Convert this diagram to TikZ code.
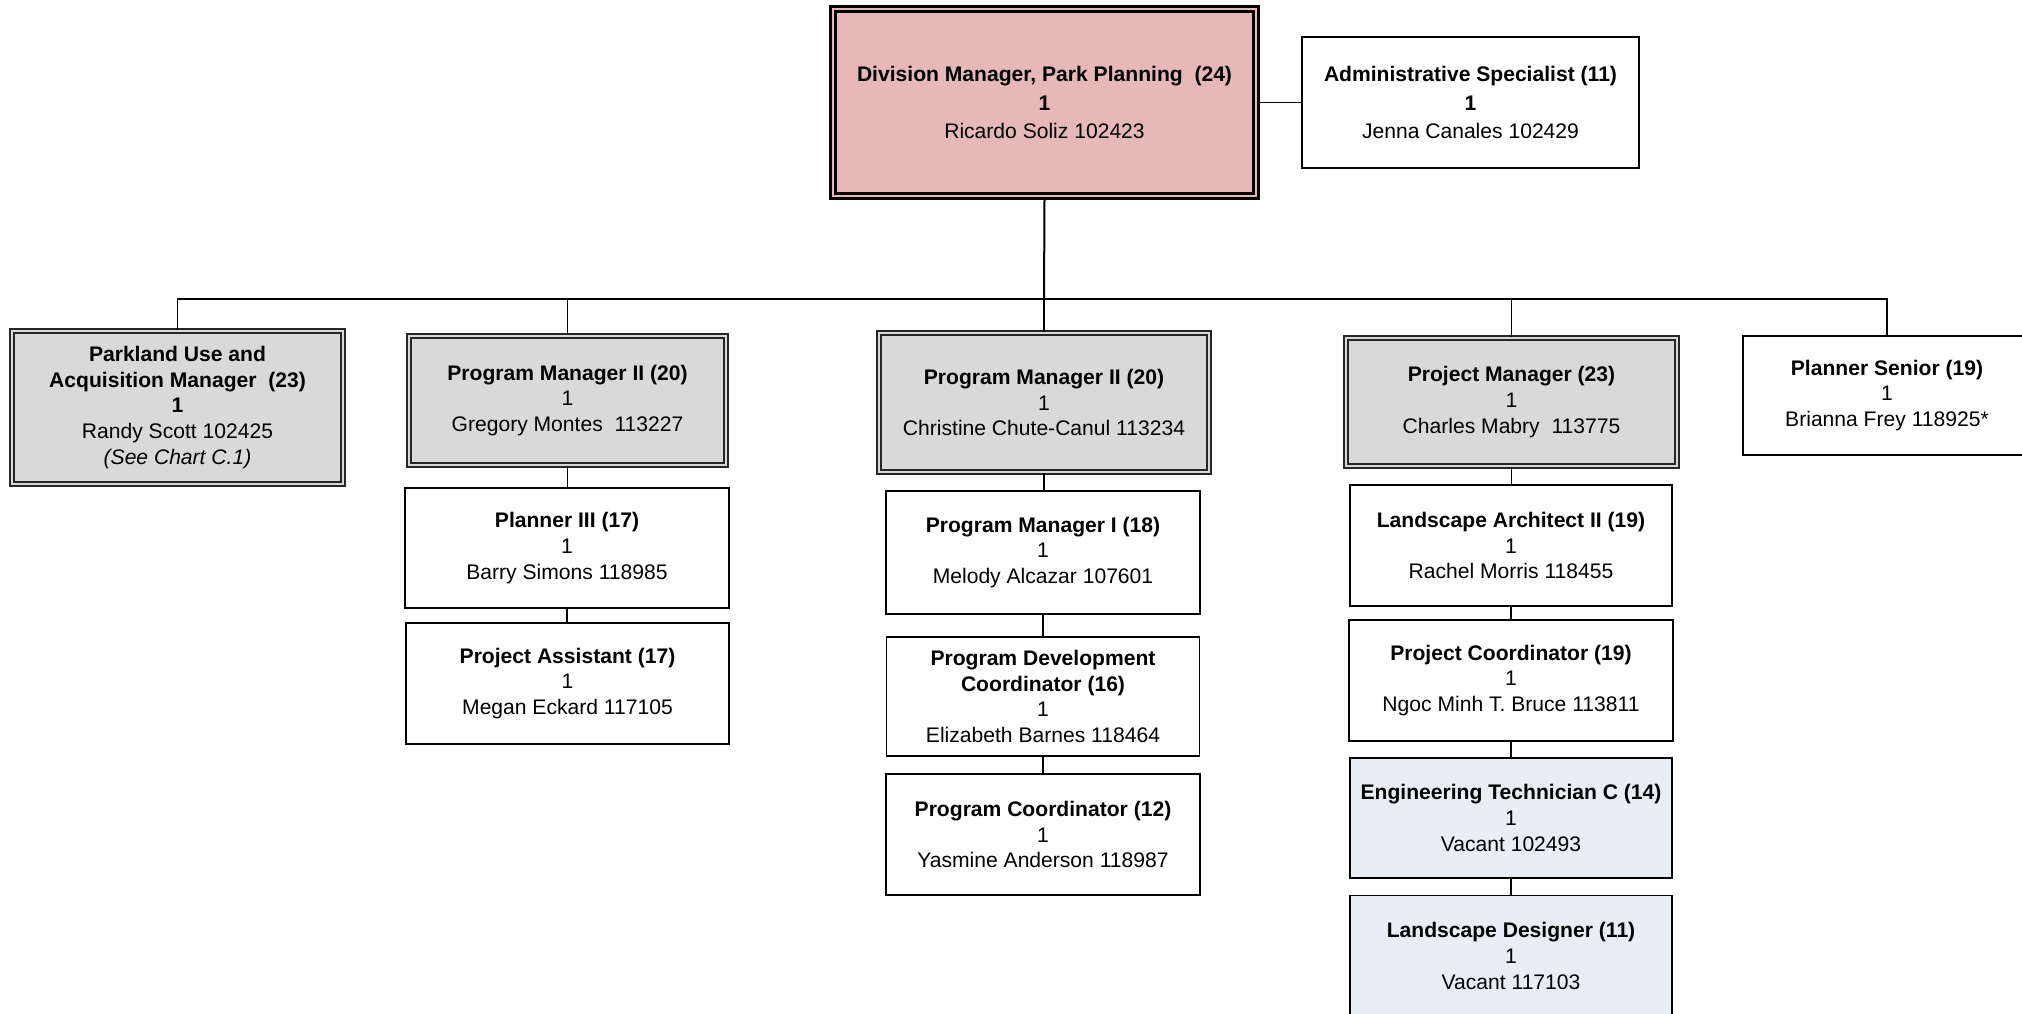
\documentclass[tikz,border=0pt]{standalone}
\usepackage{fontspec}
\setmainfont{Liberation Sans}
\usepackage[usenames,dvipsnames]{xcolor}
\usepackage{tikz}

\definecolor{headpink}{HTML}{E6B8B7}
\definecolor{mgrgray}{HTML}{D9D9D9}
\definecolor{vacblue}{HTML}{E9EDF4}

\begin{document}
\begin{tikzpicture}[x = 0.2mm, y = -0.2mm,
    every node/.style = {align = center, inner sep = 0pt,
        font = \fontsize{12}{14.7}\selectfont},
    box/.style 2 args = {draw, line width = 0.3mm, fill = white,
        minimum width = #1*0.2mm, minimum height = #2*0.2mm},
    mgrbox/.style = {fill = mgrgray, draw = black!85, double = mgrgray,
        double distance = 0.5mm, line width = 0.3mm},
    headbox/.style = {fill = headpink, draw = black, double = headpink,
        double distance = 0.25mm, line width = 0.75mm},
    vacbox/.style = {fill = vacblue},
    topfont/.style = {font = \fontsize{12}{16}\selectfont},
    link/.style = {line width = 0.3mm}]
    \useasboundingbox (0, 0) rectangle (2022, 1013);

    %% head
    \node[box = {423}{187}, headbox, topfont] (div) at (1044.5, 102.5)
        {\textbf{Division Manager, Park Planning~ (24)}\\\textbf{1}\\Ricardo Soliz 102423};
    \node[box = {337}{131}, topfont] (admin) at (1470.5, 102.5)
        {\textbf{Administrative Specialist (11)}\\\textbf{1}\\Jenna Canales 102429};

    %% managers
    \node[box = {331}{153}, mgrbox] (park) at (177.5, 407.5)
        {\textbf{Parkland Use and}\\\textbf{Acquisition Manager~ (23)}\\\textbf{1}\\Randy Scott 102425\\\textit{(See Chart C.1)}};
    \node[box = {317}{129}, mgrbox] (pmA) at (567.5, 400.5)
        {\textbf{Program Manager II (20)}\\1\\Gregory Montes~ 113227};
    \node[box = {330}{139}, mgrbox] (pmB) at (1044, 402.5)
        {\textbf{Program Manager II (20)}\\1\\Christine Chute-Canul 113234};
    \node[box = {331}{128}, mgrbox] (pjm) at (1511.5, 402)
        {\textbf{Project Manager (23)}\\1\\Charles Mabry~ 113775};
    \node[box = {288}{119}] (psr) at (1887, 395.5)
        {\textbf{Planner Senior (19)}\\1\\Brianna Frey 118925*};

    %% staff
    \node[box = {324}{120}] (pl3) at (567, 548)
        {\textbf{Planner III (17)}\\1\\Barry Simons 118985};
    \node[box = {323}{121}] (pa) at (567.5, 683.5)
        {\textbf{Project Assistant (17)}\\1\\Megan Eckard 117105};

    \node[box = {314}{123}] (pm1) at (1043, 552.5)
        {\textbf{Program Manager I (18)}\\1\\Melody Alcazar 107601};
    \node[box = {313}{119}] (pdc) at (1043, 696.5)
        {\textbf{Program Development}\\\textbf{Coordinator (16)}\\1\\Elizabeth Barnes 118464};
    \node[box = {314}{121}] (pc) at (1043, 834.5)
        {\textbf{Program Coordinator (12)}\\1\\Yasmine Anderson 118987};

    \node[box = {322}{121}] (la2) at (1511, 545.5)
        {\textbf{Landscape Architect II (19)}\\1\\Rachel Morris 118455};
    \node[box = {324}{121}] (pco) at (1511, 680.5)
        {\textbf{Project Coordinator (19)}\\1\\Ngoc Minh T. Bruce 113811};
    \node[box = {322}{120}, vacbox] (etc) at (1511, 818)
        {\textbf{Engineering Technician C (14)}\\1\\Vacant 102493};
    \node[box = {322}{121}, vacbox] (ld) at (1511, 956)
        {\textbf{Landscape Designer (11)}\\1\\Vacant 117103};

    %% lines
    \coordinate (bus) at (1044, 299);
    \draw[link, line width = 0.4mm] (div.south) -- (bus);
    \draw[link] (div.east) -- (admin.west);
    \foreach \n in {park, pmA, pjm, psr}
        \draw[link] (bus) -| (\n.north);
    \draw[link] (bus) -- (pmB.north);
    \foreach \a/\b in {pmA/pl3, pl3/pa, pmB/pm1, pm1/pdc, pdc/pc, pjm/la2, la2/pco, pco/etc, etc/ld}
        \draw[link] (\a.south) -- (\a.south |- \b.north);
\end{tikzpicture}
\end{document}
